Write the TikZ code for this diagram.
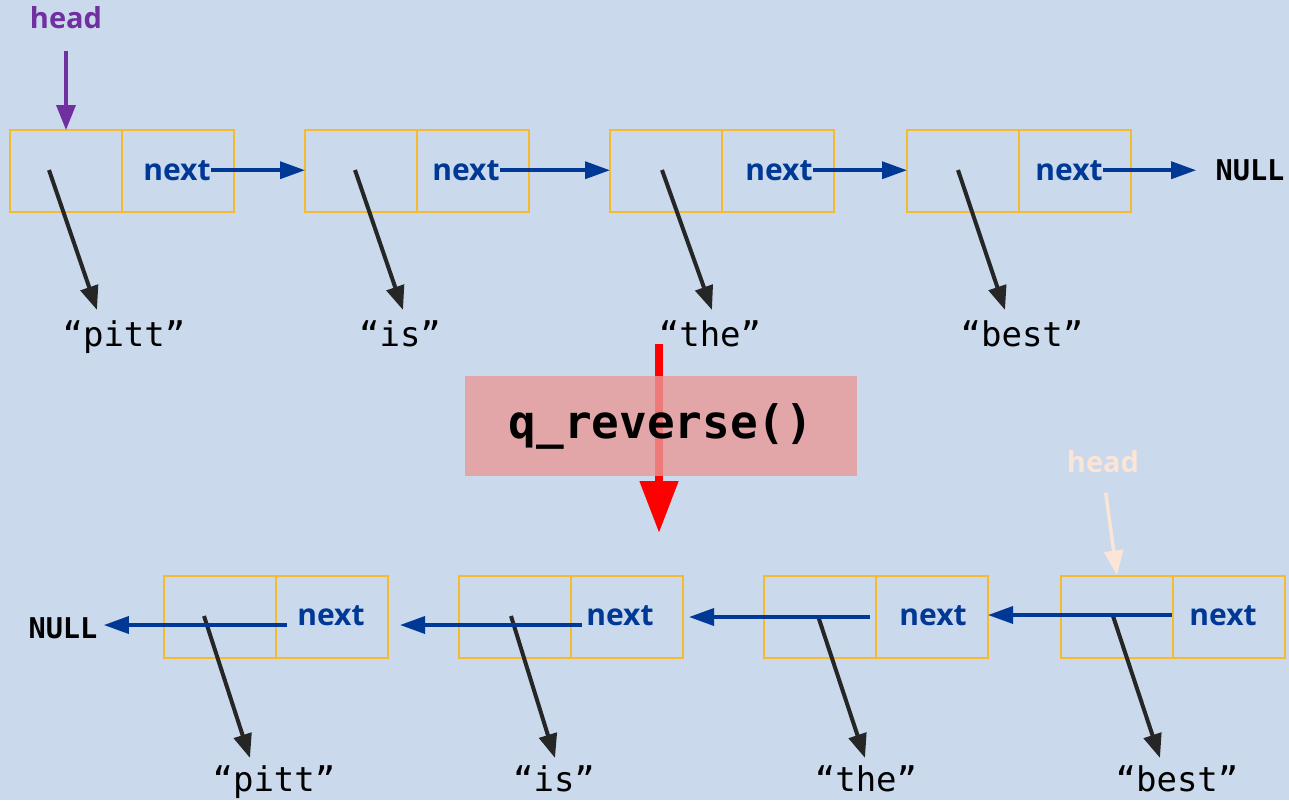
\documentclass[tikz,border=0pt]{standalone}
\usepackage{fontspec}
\setmainfont{Open Sans}
\setmonofont{DejaVu Sans Mono}
\usetikzlibrary{arrows.meta,calc}

\definecolor{bgblue}{RGB}{202,217,236}
\definecolor{cellorange}{RGB}{246,186,46}
\definecolor{ptrblue}{RGB}{0,56,150}
\definecolor{datagray}{RGB}{38,38,38}
\definecolor{headpurple}{RGB}{112,48,160}
\definecolor{headpeach}{RGB}{251,229,214}
\definecolor{boxpink}{RGB}{233,152,152}

\tikzset{
  cell/.style={draw=cellorange, line width=1pt, minimum width=56pt, minimum height=41pt, inner sep=0pt, outer sep=0pt},
  nextlbl/.style={text=ptrblue, font=\bfseries\fontsize{15}{15}\selectfont, inner sep=0pt, anchor=base},
  word/.style={font=\ttfamily\fontsize{17}{17}\selectfont, inner sep=0pt, anchor=base},
  nullword/.style={font=\ttfamily\bfseries\fontsize{14.3}{14.3}\selectfont, inner sep=0pt, anchor=base},
  headlbl/.style={font=\bfseries\fontsize{14.5}{14.5}\selectfont, inner sep=0pt, anchor=base},
  nextptr/.style={draw=ptrblue, line width=1.75pt, -{Triangle[length=12.5pt,width=8.5pt]}},
  dataptr/.style={draw=datagray, line width=2pt, -{Triangle[length=12pt,width=9pt]}},
  headptr/.style={line width=1.75pt, -{Triangle[length=12.5pt,width=9.5pt]}},
  revptr/.style={draw=red, line width=4pt, -{Triangle[length=26pt,width=18.5pt]}}
}

\begin{document}
\begin{tikzpicture}[x=0.5pt,y=-0.5pt]
\useasboundingbox (0,0) rectangle (1289,800);
\fill[bgblue] (0,0) rectangle (1289,800);

% list before the call
\foreach \i/\cx/\lx/\sx/\tx/\wx/\w in {1/66/177/49/97/124/pitt, 2/361/466/355/403/400/is, 3/666/779/662/712/710/the, 4/963/1069/958/1005/1022/best} {
  \node[cell] (t\i d) at (\cx,171) {};
  \node[cell, anchor=west] (t\i n) at (t\i d.east) {};
  \node[nextlbl] (t\i l) at (\lx,180) {next};
  \node[word] (tw\i) at (\wx,346) {“\w”};
  \coordinate (ta\i) at (\sx,170);
  \coordinate (tb\i) at (\tx,310);
  \draw[dataptr] (ta\i) -- (tb\i);
}
\node[nullword] (tnull) at (1250,180) {NULL};
\foreach \i/\j in {1/2, 2/3, 3/4}
  \draw[nextptr] (t\i l.east) -- (t\i l.east -| t\j d.west);
\draw[nextptr, shorten >=9.5pt] (t4l.east) -- (t4l.east -| tnull.west);

\node[headlbl, text=headpurple] (hdt) at (66,28) {head};
\draw[headptr, draw=headpurple, shorten <=11pt] (hdt.south) -- (t1d.north);

% q_reverse()
\draw[revptr] (659,344) coordinate (ra) -- (659,533) coordinate (rb);
\node[fill=boxpink, fill opacity=0.8, text opacity=1, minimum width=196pt, minimum height=50pt, inner sep=0pt,
  font=\ttfamily\bfseries\fontsize{23}{23}\selectfont] (rv) at (661,426) {q\_reverse()};

% list after the call
\foreach \i/\cx/\lx/\sx/\tx/\wx/\w in {1/220/331/204/250/274/pitt, 2/515/620/511/555/554/is, 3/820/933/818/865/866/the, 4/1117/1223/1113/1160/1177/best} {
  \node[cell] (b\i d) at (\cx,616.5) {};
  \node[cell, anchor=west] (b\i n) at (b\i d.east) {};
  \node[nextlbl] (b\i l) at (\lx,625) {next};
  \node[word] (bw\i) at (\wx,791) {“\w”};
  \coordinate (ba\i) at (\sx,616);
  \coordinate (bb\i) at (\tx,758);
  \draw[dataptr] (ba\i) -- (bb\i);
}
\node[nullword] (bnull) at (63,638) {NULL};
\coordinate (bs1) at (287,625);
\draw[nextptr, shorten >=3pt] (bs1) -- (bs1 -| bnull.east);
\foreach \i/\j/\sx/\sy/\gap in {2/1/582/625/6, 3/2/870/617/3, 4/3/1172/615/0} {
  \coordinate (bs\i) at (\sx,\sy);
  \draw[nextptr, shorten >=\gap pt] (bs\i) -- (bs\i -| b\j n.east);
}

\node[headlbl, text=headpeach] (hdb) at (1103,472) {head};
\draw[headptr, draw=headpeach, shorten <=10pt] (hdb.south) -- (b4d.north);
\end{tikzpicture}
\end{document}
